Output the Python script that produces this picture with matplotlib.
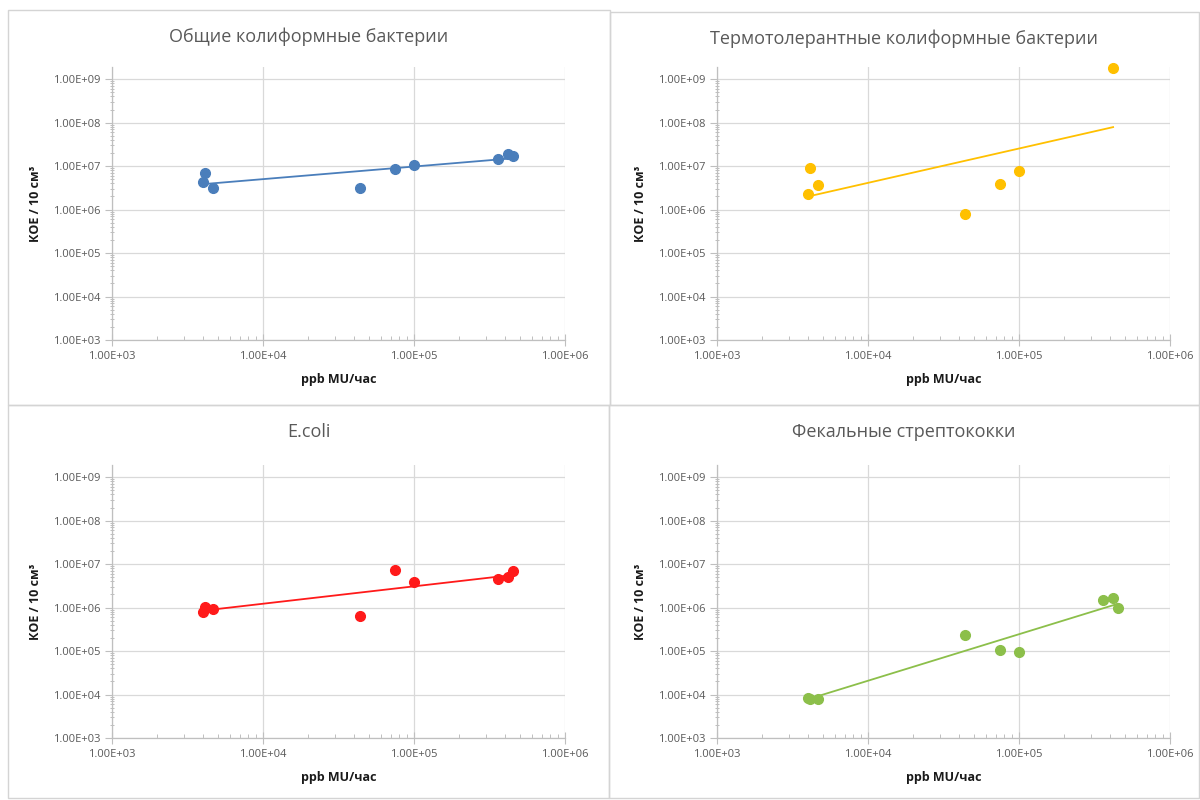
import numpy as np
import matplotlib
matplotlib.use("Agg")
import matplotlib.pyplot as plt
from matplotlib.ticker import FixedLocator, FuncFormatter, NullFormatter
from matplotlib.patches import Rectangle

plt.rcParams['font.family'] = ['Open Sans', 'DejaVu Sans']

# sample load, ppb MU per hour
x_all = [4000, 4100, 4700, 44000, 75000, 100000, 360000, 420000, 450000]

# CFU / 10 cm3 for each group
total_coliform = [4.3e6, 6.9e6, 3.1e6, 3.1e6, 8.5e6, 1.05e7, 1.45e7, 1.9e7, 1.75e7]
thermo_x = [4000, 4100, 4700, 44000, 75000, 100000, 420000]
thermo_coliform = [2.3e6, 9.0e6, 3.7e6, 8.1e5, 3.9e6, 7.7e6, 1.8e9]
ecoli = [8.0e5, 1.05e6, 9.5e5, 6.5e5, 7.3e6, 3.8e6, 4.6e6, 5.0e6, 7.0e6]
fecal_strep = [8.5e3, 7.7e3, 7.7e3, 2.3e5, 1.05e5, 9.5e4, 1.5e6, 1.65e6, 1.0e6]

# power trendlines y = a * x^b
trend_a = [3.47e5, 2.85e3, 3.08e4, 1.09]
trend_b = [0.29, 0.79, 0.40, 1.07]

titles = ['Общие колиформные бактерии', 'Термотолерантные колиформные бактерии',
          'E.coli', 'Фекальные стрептококки']
colors = ['#4A7EBB', '#FFC000', '#FF1A1A', '#8CBF4A']
series_x = [x_all, thermo_x, x_all, x_all]
series_y = [total_coliform, thermo_coliform, ecoli, fecal_strep]

x_decades = [1e3, 1e4, 1e5, 1e6]
y_decades = [1e3, 1e4, 1e5, 1e6, 1e7, 1e8, 1e9]

W, H = 1200, 800
fig = plt.figure(figsize=(12, 8), dpi=100)

# chart boxes (left, top, right, bottom) in pixels
boxes = [(8, 10, 610, 405), (610, 12, 1199, 405), (8, 405, 609, 798), (609, 405, 1199, 798)]
# plot areas (left, top, right, bottom) in pixels
areas = [(112, 67, 565, 340), (717, 67, 1170, 340), (112, 465, 565, 738), (717, 465, 1170, 738)]


def sci(v, pos):
    e = int(round(np.log10(v)))
    return '1.00E+%02d' % e


def minor_ticks(decades):
    out = []
    for d in decades[:-1]:
        out.extend(d * np.arange(2, 10))
    return out


for i in range(4):
    bl, bt, br, bb = boxes[i]
    fig.patches.append(Rectangle((bl / W, 1 - bb / H), (br - bl) / W, (bb - bt) / H,
                                 transform=fig.transFigure, fill=False,
                                 edgecolor='#d4d4d4', lw=1.0))
    l, t, r, b = areas[i]
    ax = fig.add_axes([l / W, 1 - b / H, (r - l) / W, (b - t) / H])
    ax.set_xscale('log')
    ax.set_yscale('log')
    ax.set_xlim(1e3, 1e6)
    ax.set_ylim(1e3, 10 ** 9.28)

    xs = np.array(series_x[i], dtype=float)
    ys = np.array(series_y[i], dtype=float)
    xt = np.linspace(xs.min(), xs.max(), 50)
    ax.plot(xt, trend_a[i] * xt ** trend_b[i], color=colors[i], lw=1.3, zorder=3)
    ax.plot(xs, ys, 'o', color=colors[i], ms=7, zorder=4, clip_on=False)

    ax.xaxis.set_major_locator(FixedLocator(x_decades))
    ax.yaxis.set_major_locator(FixedLocator(y_decades))
    ax.xaxis.set_minor_locator(FixedLocator(minor_ticks(x_decades)))
    ax.yaxis.set_minor_locator(FixedLocator(minor_ticks(y_decades)))
    ax.xaxis.set_major_formatter(FuncFormatter(sci))
    ax.yaxis.set_major_formatter(FuncFormatter(sci))
    ax.xaxis.set_minor_formatter(NullFormatter())
    ax.yaxis.set_minor_formatter(NullFormatter())

    ax.grid(True, which='major', color='#d9d9d9', lw=0.9)
    ax.set_axisbelow(True)
    for s in ['top', 'right']:
        ax.spines[s].set_visible(False)
    for s in ['left', 'bottom']:
        ax.spines[s].set_color('#bfbfbf')
        ax.spines[s].set_linewidth(0.9)
    ax.tick_params(which='major', length=5, width=0.8, color='#bfbfbf',
                   labelsize=8, labelcolor='#595959', direction='out')
    ax.tick_params(axis='x', which='minor', length=3, width=0.7, color='#bfbfbf', direction='in')
    ax.tick_params(axis='y', which='minor', length=3, width=0.7, color='#bfbfbf', direction='inout')
    ax.tick_params(axis='x', which='major', pad=4, direction='inout', length=8)

    ax.set_xlabel('ppb MU/час', fontsize=9, fontweight='bold', color='#1a1a1a', labelpad=8)
    ax.set_ylabel('КОЕ / 10 см³', fontsize=9, fontweight='bold', color='#1a1a1a', labelpad=8)

    fig.text((bl + br) / 2 / W, 1 - (bt + 27) / H, titles[i], ha='center', va='center',
             fontsize=13, color='#595959')

fig.savefig('out.png', dpi=100, facecolor='white')
